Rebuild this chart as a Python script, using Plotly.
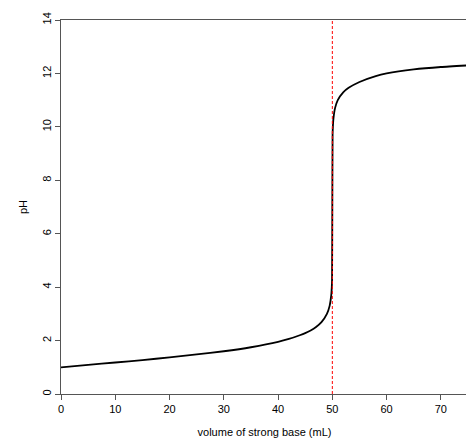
import plotly.graph_objects as go

volume_ml = [0, 5, 10, 15, 20, 25, 30, 35, 40, 42, 44, 45, 46, 47, 48, 49, 49.5, 49.8, 49.9, 49.95, 50,
             50.05, 50.1, 50.2, 50.5, 51, 52, 53, 55, 58, 60, 65, 70, 75]
ph_values = [1.00, 1.09, 1.18, 1.27, 1.37, 1.48, 1.60, 1.75, 1.95, 2.06, 2.20, 2.28, 2.38, 2.51, 2.69, 3.00,
             3.30, 3.70, 4.00, 4.30, 7.00, 9.70, 10.00, 10.30, 10.70, 11.00, 11.29, 11.46, 11.68, 11.90,
             12.00, 12.15, 12.24, 12.30]
equivalence_ml = 50
x_ticks = [0, 10, 20, 30, 40, 50, 60, 70]
y_ticks = [0, 2, 4, 6, 8, 10, 12, 14]

fig = go.Figure()
fig.add_trace(go.Scatter(x=volume_ml, y=ph_values, mode="lines",
                         line=dict(color="black", width=1.8, shape="spline", smoothing=0.5)))
fig.add_vline(x=equivalence_ml, line=dict(color="red", width=1, dash="3px,2px"))

axis_common = dict(showgrid=False, zeroline=False, showline=True, linecolor="#555", linewidth=1,
                   mirror=True, ticks="outside", ticklen=5, tickcolor="#555", automargin=False,
                   tickfont=dict(family="Liberation Sans, Arial", size=11, color="black"))
fig.update_xaxes(range=[0, 75], tickvals=x_ticks, title=dict(text="volume of strong base (mL)",
                 font=dict(family="Liberation Sans, Arial", size=11, color="black"), standoff=14),
                 **axis_common)
fig.update_yaxes(range=[0, 14], tickvals=y_ticks, tickangle=-90, title=dict(text="pH",
                 font=dict(family="Liberation Sans, Arial", size=11, color="black"), standoff=10),
                 **axis_common)
fig.update_layout(width=474, height=440, margin=dict(l=53, r=14, t=12, b=54),
                  plot_bgcolor="white", paper_bgcolor="white", showlegend=False)
fig.write_html("out.html")
